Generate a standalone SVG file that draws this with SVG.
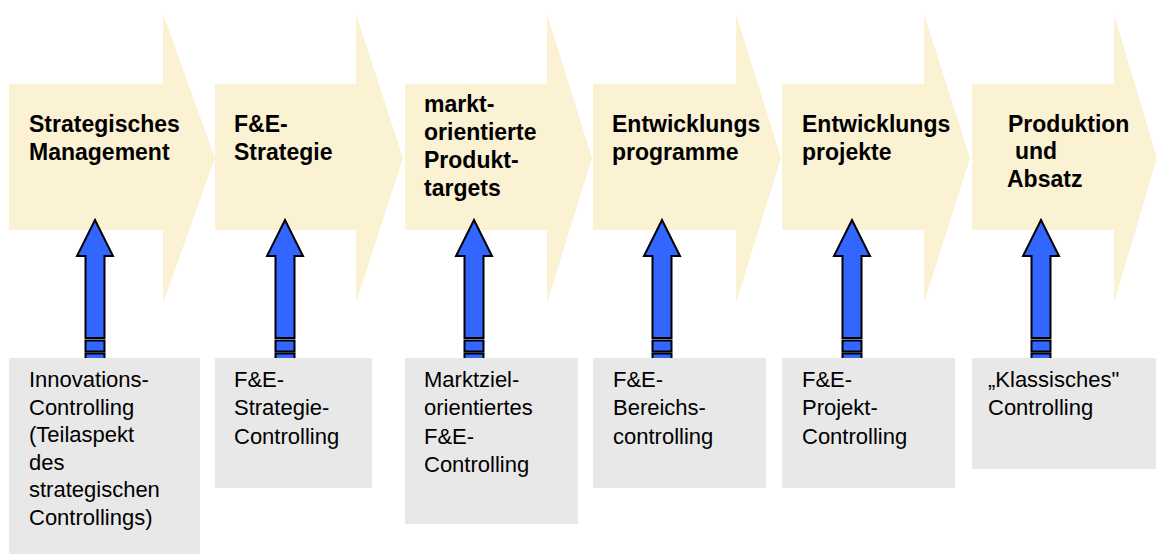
<svg xmlns="http://www.w3.org/2000/svg" width="1156" height="554" viewBox="0 0 1156 554">
  <style>
    .stage { fill: #fbf1d3; }
    .ctrl { fill: #e8e8e8; }
    .stage-text { font-family: "Liberation Sans", Arial, sans-serif; font-size: 23px; font-weight: bold; fill: #000; }
    .ctrl-text { font-family: "Liberation Sans", Arial, sans-serif; font-size: 22px; fill: #000; }
    .up { fill: #3366ff; stroke: #000; stroke-width: 2; stroke-linejoin: miter; }
  </style>
  <defs>
    <!-- upward block arrow, centred on x=0 -->
    <g id="up-arrow">
      <path class="up" d="M0 220 L18 256 L9.5 256 L9.5 338 L-9.5 338 L-9.5 256 L-18 256 Z"/>
      <rect class="up" x="-9.5" y="340.5" width="19" height="11"/>
      <rect class="up" x="-9.5" y="353.5" width="19" height="10"/>
    </g>
  </defs>

  <rect width="1156" height="554" fill="#ffffff"/>

  <!-- process stages (chevrons) -->
  <g id="stage-1">
    <path class="stage" d="M9 84 H163 V14 L215 158 L163 303 V230 H9 Z"/>
    <text class="stage-text" x="29" y="132">Strategisches</text>
    <text class="stage-text" x="29" y="160">Management</text>
  </g>
  <g id="stage-2">
    <path class="stage" d="M215 84 H356 V14 L403 158 L356 303 V230 H215 Z"/>
    <text class="stage-text" x="234" y="132">F&amp;E-</text>
    <text class="stage-text" x="234" y="160">Strategie</text>
  </g>
  <g id="stage-3">
    <path class="stage" d="M405 84 H547 V14 L592 158 L547 303 V230 H405 Z"/>
    <text class="stage-text" x="424" y="112">markt-</text>
    <text class="stage-text" x="424" y="140">orientierte</text>
    <text class="stage-text" x="424" y="168">Produkt-</text>
    <text class="stage-text" x="424" y="196">targets</text>
  </g>
  <g id="stage-4">
    <path class="stage" d="M593 84 H736 V14 L781 158 L736 303 V230 H593 Z"/>
    <text class="stage-text" x="612" y="132">Entwicklungs</text>
    <text class="stage-text" x="612" y="160">programme</text>
  </g>
  <g id="stage-5">
    <path class="stage" d="M782 84 H924 V14 L970 158 L924 303 V230 H782 Z"/>
    <text class="stage-text" x="802" y="132">Entwicklungs</text>
    <text class="stage-text" x="802" y="160">projekte</text>
  </g>
  <g id="stage-6">
    <path class="stage" d="M972 84 H1114 V14 L1157 158 L1114 303 V230 H972 Z"/>
    <text class="stage-text" x="1008" y="132">Produktion</text>
    <text class="stage-text" x="1015" y="159">und</text>
    <text class="stage-text" x="1007" y="187">Absatz</text>
  </g>

  <!-- connectors: controlling feeds each stage -->
  <g id="connectors">
    <use href="#up-arrow" x="95"/>
    <use href="#up-arrow" x="285"/>
    <use href="#up-arrow" x="474"/>
    <use href="#up-arrow" x="662"/>
    <use href="#up-arrow" x="852"/>
    <use href="#up-arrow" x="1041"/>
  </g>

  <!-- controlling boxes -->
  <g id="ctrl-1">
    <rect class="ctrl" x="9" y="358" width="191" height="196"/>
    <text class="ctrl-text" x="29" y="387">Innovations-</text>
    <text class="ctrl-text" x="29" y="414.5">Controlling</text>
    <text class="ctrl-text" x="29" y="442">(Teilaspekt</text>
    <text class="ctrl-text" x="29" y="469.5">des</text>
    <text class="ctrl-text" x="29" y="497">strategischen</text>
    <text class="ctrl-text" x="29" y="524.5">Controllings)</text>
  </g>
  <g id="ctrl-2">
    <rect class="ctrl" x="215" y="358" width="157" height="130"/>
    <text class="ctrl-text" x="234" y="387">F&amp;E-</text>
    <text class="ctrl-text" x="234" y="415">Strategie-</text>
    <text class="ctrl-text" x="234" y="444">Controlling</text>
  </g>
  <g id="ctrl-3">
    <rect class="ctrl" x="405" y="358" width="173" height="166"/>
    <text class="ctrl-text" x="424" y="387">Marktziel-</text>
    <text class="ctrl-text" x="424" y="415">orientiertes</text>
    <text class="ctrl-text" x="424" y="444">F&amp;E-</text>
    <text class="ctrl-text" x="424" y="472">Controlling</text>
  </g>
  <g id="ctrl-4">
    <rect class="ctrl" x="593" y="358" width="173" height="130"/>
    <text class="ctrl-text" x="613" y="387">F&amp;E-</text>
    <text class="ctrl-text" x="613" y="415">Bereichs-</text>
    <text class="ctrl-text" x="613" y="444">controlling</text>
  </g>
  <g id="ctrl-5">
    <rect class="ctrl" x="782" y="358" width="173" height="130"/>
    <text class="ctrl-text" x="802" y="387">F&amp;E-</text>
    <text class="ctrl-text" x="802" y="415">Projekt-</text>
    <text class="ctrl-text" x="802" y="444">Controlling</text>
  </g>
  <g id="ctrl-6">
    <rect class="ctrl" x="972" y="358" width="184" height="111"/>
    <text class="ctrl-text" x="988" y="387">„Klassisches"</text>
    <text class="ctrl-text" x="988" y="415">Controlling</text>
  </g>
</svg>
